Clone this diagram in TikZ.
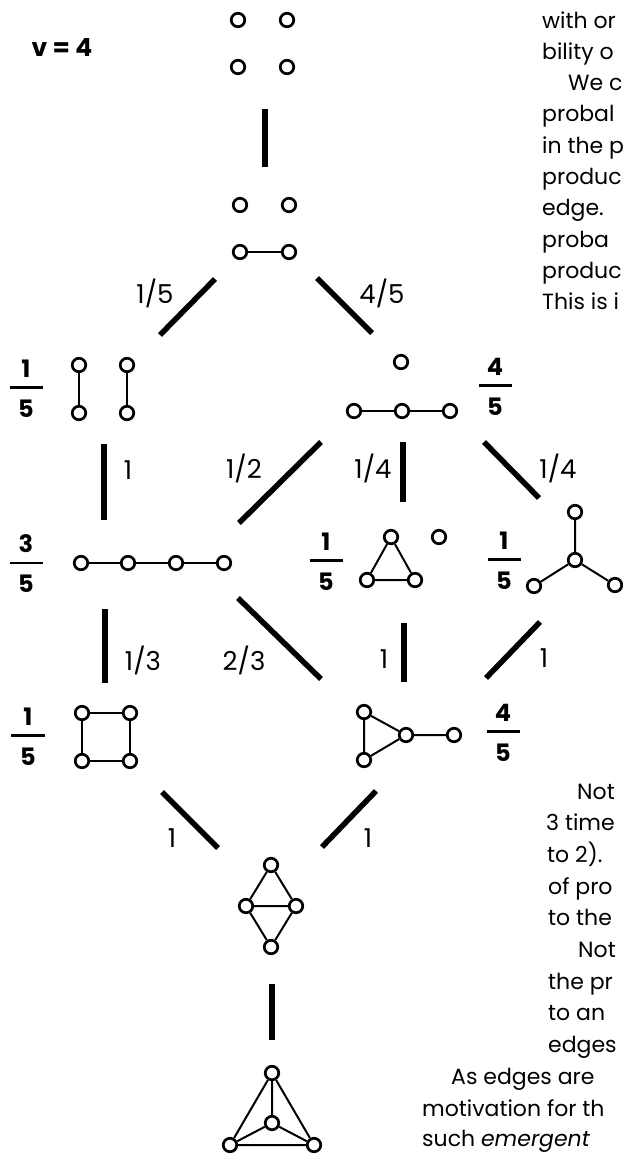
\documentclass[tikz,border=0pt]{standalone}
\usepackage{fontspec}
\setmainfont{Poppins}
\newcommand\probfrac[2]{#1\\\rule[9pt]{33pt}{2.4pt}\\#2}
\begin{document}
\begin{tikzpicture}[x=1pt,y=-1pt,
  vtx/.style={circle,draw,fill=white,line width=2.7pt,inner sep=0pt,minimum size=13.5pt},
  gedge/.style={line width=2pt},
  link/.style={line width=5.5pt},
  lbl/.style={inner sep=0pt,font=\fontsize{26}{26}\selectfont},
  prob/.style={inner sep=0pt,align=center,font=\bfseries\fontsize{24}{20}\selectfont},
  body/.style={anchor=base west,inner sep=0pt,font=\fontsize{22}{22}\selectfont}]
\useasboundingbox (0,0) rectangle (623,1154);
\clip (0,0) rectangle (623,1154);

\node[inner sep=0pt,font=\bfseries\fontsize{25}{25}\selectfont] (vfour) at (62,47) {v = 4};

% level 0: four isolated vertices
\node[vtx] (a1) at (238,20) {};
\node[vtx] (a2) at (287,20) {};
\node[vtx] (a3) at (238,67) {};
\node[vtx] (a4) at (287,67) {};

% level 1: one edge
\node[vtx] (b1) at (240,205) {};
\node[vtx] (b2) at (289,205) {};
\node[vtx] (b3) at (240,252) {};
\node[vtx] (b4) at (289,252) {};
\draw[gedge] (b3) -- (b4);

% level 2: two disjoint edges
\node[vtx] (c1) at (79,365) {};
\node[vtx] (c2) at (127,365) {};
\node[vtx] (c3) at (79,413) {};
\node[vtx] (c4) at (127,413) {};
\draw[gedge] (c1) -- (c3) (c2) -- (c4);
\node[prob] (p1) at (26,389) {\probfrac{1}{5}};

% level 2: path on three vertices plus an isolated vertex
\node[vtx] (d0) at (401,362) {};
\node[vtx] (d1) at (354,411) {};
\node[vtx] (d2) at (402,411) {};
\node[vtx] (d3) at (450,411) {};
\draw[gedge] (d1) -- (d2) -- (d3);
\node[prob] (p2) at (495,387) {\probfrac{4}{5}};

% level 3: path on four vertices
\node[vtx] (e1) at (81,563) {};
\node[vtx] (e2) at (128,563) {};
\node[vtx] (e3) at (176,563) {};
\node[vtx] (e4) at (224,563) {};
\draw[gedge] (e1) -- (e2) -- (e3) -- (e4);
\node[prob] (p3) at (26,564) {\probfrac{3}{5}};

% level 3: triangle plus an isolated vertex
\node[vtx] (f1) at (391,537) {};
\node[vtx] (f2) at (367,580) {};
\node[vtx] (f3) at (415,580) {};
\node[vtx] (f4) at (439,537) {};
\draw[gedge] (f1) -- (f2) -- (f3) -- (f1);
\node[prob] (p4) at (326,562) {\probfrac{1}{5}};

% level 3: star
\node[vtx] (g0) at (575,560) {};
\node[vtx] (g1) at (575,512) {};
\node[vtx] (g2) at (534,586) {};
\node[vtx] (g3) at (615,585) {};
\draw[gedge] (g0) -- (g1) (g0) -- (g2) (g0) -- (g3);
\node[prob] (p5) at (504,561) {\probfrac{1}{5}};

% level 4: four-cycle
\node[vtx] (h1) at (82,713) {};
\node[vtx] (h2) at (130,713) {};
\node[vtx] (h3) at (82,761) {};
\node[vtx] (h4) at (130,761) {};
\draw[gedge] (h1) -- (h2) -- (h4) -- (h3) -- (h1);
\node[prob] (p6) at (28,737) {\probfrac{1}{5}};

% level 4: triangle with a pendant edge
\node[vtx] (k1) at (364,712) {};
\node[vtx] (k2) at (364,760) {};
\node[vtx] (k3) at (406,735) {};
\node[vtx] (k4) at (454,735) {};
\draw[gedge] (k1) -- (k2) -- (k3) -- (k1) (k3) -- (k4);
\node[prob] (p7) at (503,733) {\probfrac{4}{5}};

% level 5: complete graph minus an edge
\node[vtx] (m1) at (271,865) {};
\node[vtx] (m2) at (246,906) {};
\node[vtx] (m3) at (296,906) {};
\node[vtx] (m4) at (271,947) {};
\draw[gedge] (m1) -- (m2) -- (m4) -- (m3) -- (m1) (m2) -- (m3);

% level 6: complete graph
\node[vtx] (n1) at (272,1073) {};
\node[vtx] (n2) at (272,1123) {};
\node[vtx] (n3) at (230,1145) {};
\node[vtx] (n4) at (314,1145) {};
\draw[gedge] (n1) -- (n2) (n1) -- (n3) (n1) -- (n4) (n2) -- (n3) (n2) -- (n4) (n3) -- (n4);

% transition links
\coordinate (s0) at (265,109);  \coordinate (t0) at (265,167);
\coordinate (s1) at (215,279);  \coordinate (t1) at (160,335);
\coordinate (s2) at (317,278);  \coordinate (t2) at (372,333);
\coordinate (s3) at (104,444);  \coordinate (t3) at (104,520);
\coordinate (s4) at (321,442);  \coordinate (t4) at (239,523);
\coordinate (s5) at (403,442);  \coordinate (t5) at (403,502);
\coordinate (s6) at (484,442);  \coordinate (t6) at (539,498);
\coordinate (s7) at (105,609);  \coordinate (t7) at (105,683);
\coordinate (s8) at (238,598);  \coordinate (t8) at (321,679);
\coordinate (s9) at (404,623);  \coordinate (t9) at (404,682);
\coordinate (s10) at (540,622); \coordinate (t10) at (486,678);
\coordinate (s11) at (162,792); \coordinate (t11) at (218,848);
\coordinate (s12) at (376,791); \coordinate (t12) at (322,847);
\coordinate (s13) at (272,984); \coordinate (t13) at (272,1040);
\foreach \i in {0,...,13} {\draw[link] (s\i) -- (t\i);}

% transition probabilities
\node[lbl] (l1) at (155,293) {1/5};
\node[lbl] (l2) at (382,293) {4/5};
\node[lbl] (l3) at (128,470) {1};
\node[lbl] (l4) at (244,468) {1/2};
\node[lbl] (l5) at (373,468) {1/4};
\node[lbl] (l6) at (558,468) {1/4};
\node[lbl] (l7) at (143,660) {1/3};
\node[lbl] (l8) at (244,660) {2/3};
\node[lbl] (l9) at (384,659) {1};
\node[lbl] (l10) at (544,658) {1};
\node[lbl] (l11) at (172,838) {1};
\node[lbl] (l12) at (368,838) {1};

% running text beside the figure, up to the page edge
\node[body] (r1) at (542,28) {with or};
\node[body] (r2) at (542,59.3) {bility o};
\node[body] (r3) at (568,90.6) {We c};
\node[body] (r4) at (542,121.9) {probal};
\node[body] (r5) at (542,153.2) {in the p};
\node[body] (r6) at (542,184.5) {produc};
\node[body] (r7) at (542,215.8) {edge.};
\node[body] (r8) at (542,247.1) {proba};
\node[body] (r9) at (542,278.4) {produc};
\node[body] (r10) at (542,309.7) {This is i};

\node[body] (q1) at (577,799) {Not};
\node[body] (q2) at (546,830.7) {3 time};
\node[body] (q3) at (547,862.4) {to 2).};
\node[body] (q4) at (548,894.1) {of pro};
\node[body] (q5) at (548,925.8) {to the};
\node[body] (q6) at (578,957.5) {Not};
\node[body] (q7) at (548,989.2) {the pr};
\node[body] (q8) at (548,1020.9) {to an};
\node[body] (q9) at (548,1052.6) {edges};
\node[body] (q10) at (451,1084.3) {As edges are};
\node[body] (q11) at (422,1116) {motivation for th};
\node[body] (q12) at (422,1146) {such \textit{emergent}};
\end{tikzpicture}
\end{document}
